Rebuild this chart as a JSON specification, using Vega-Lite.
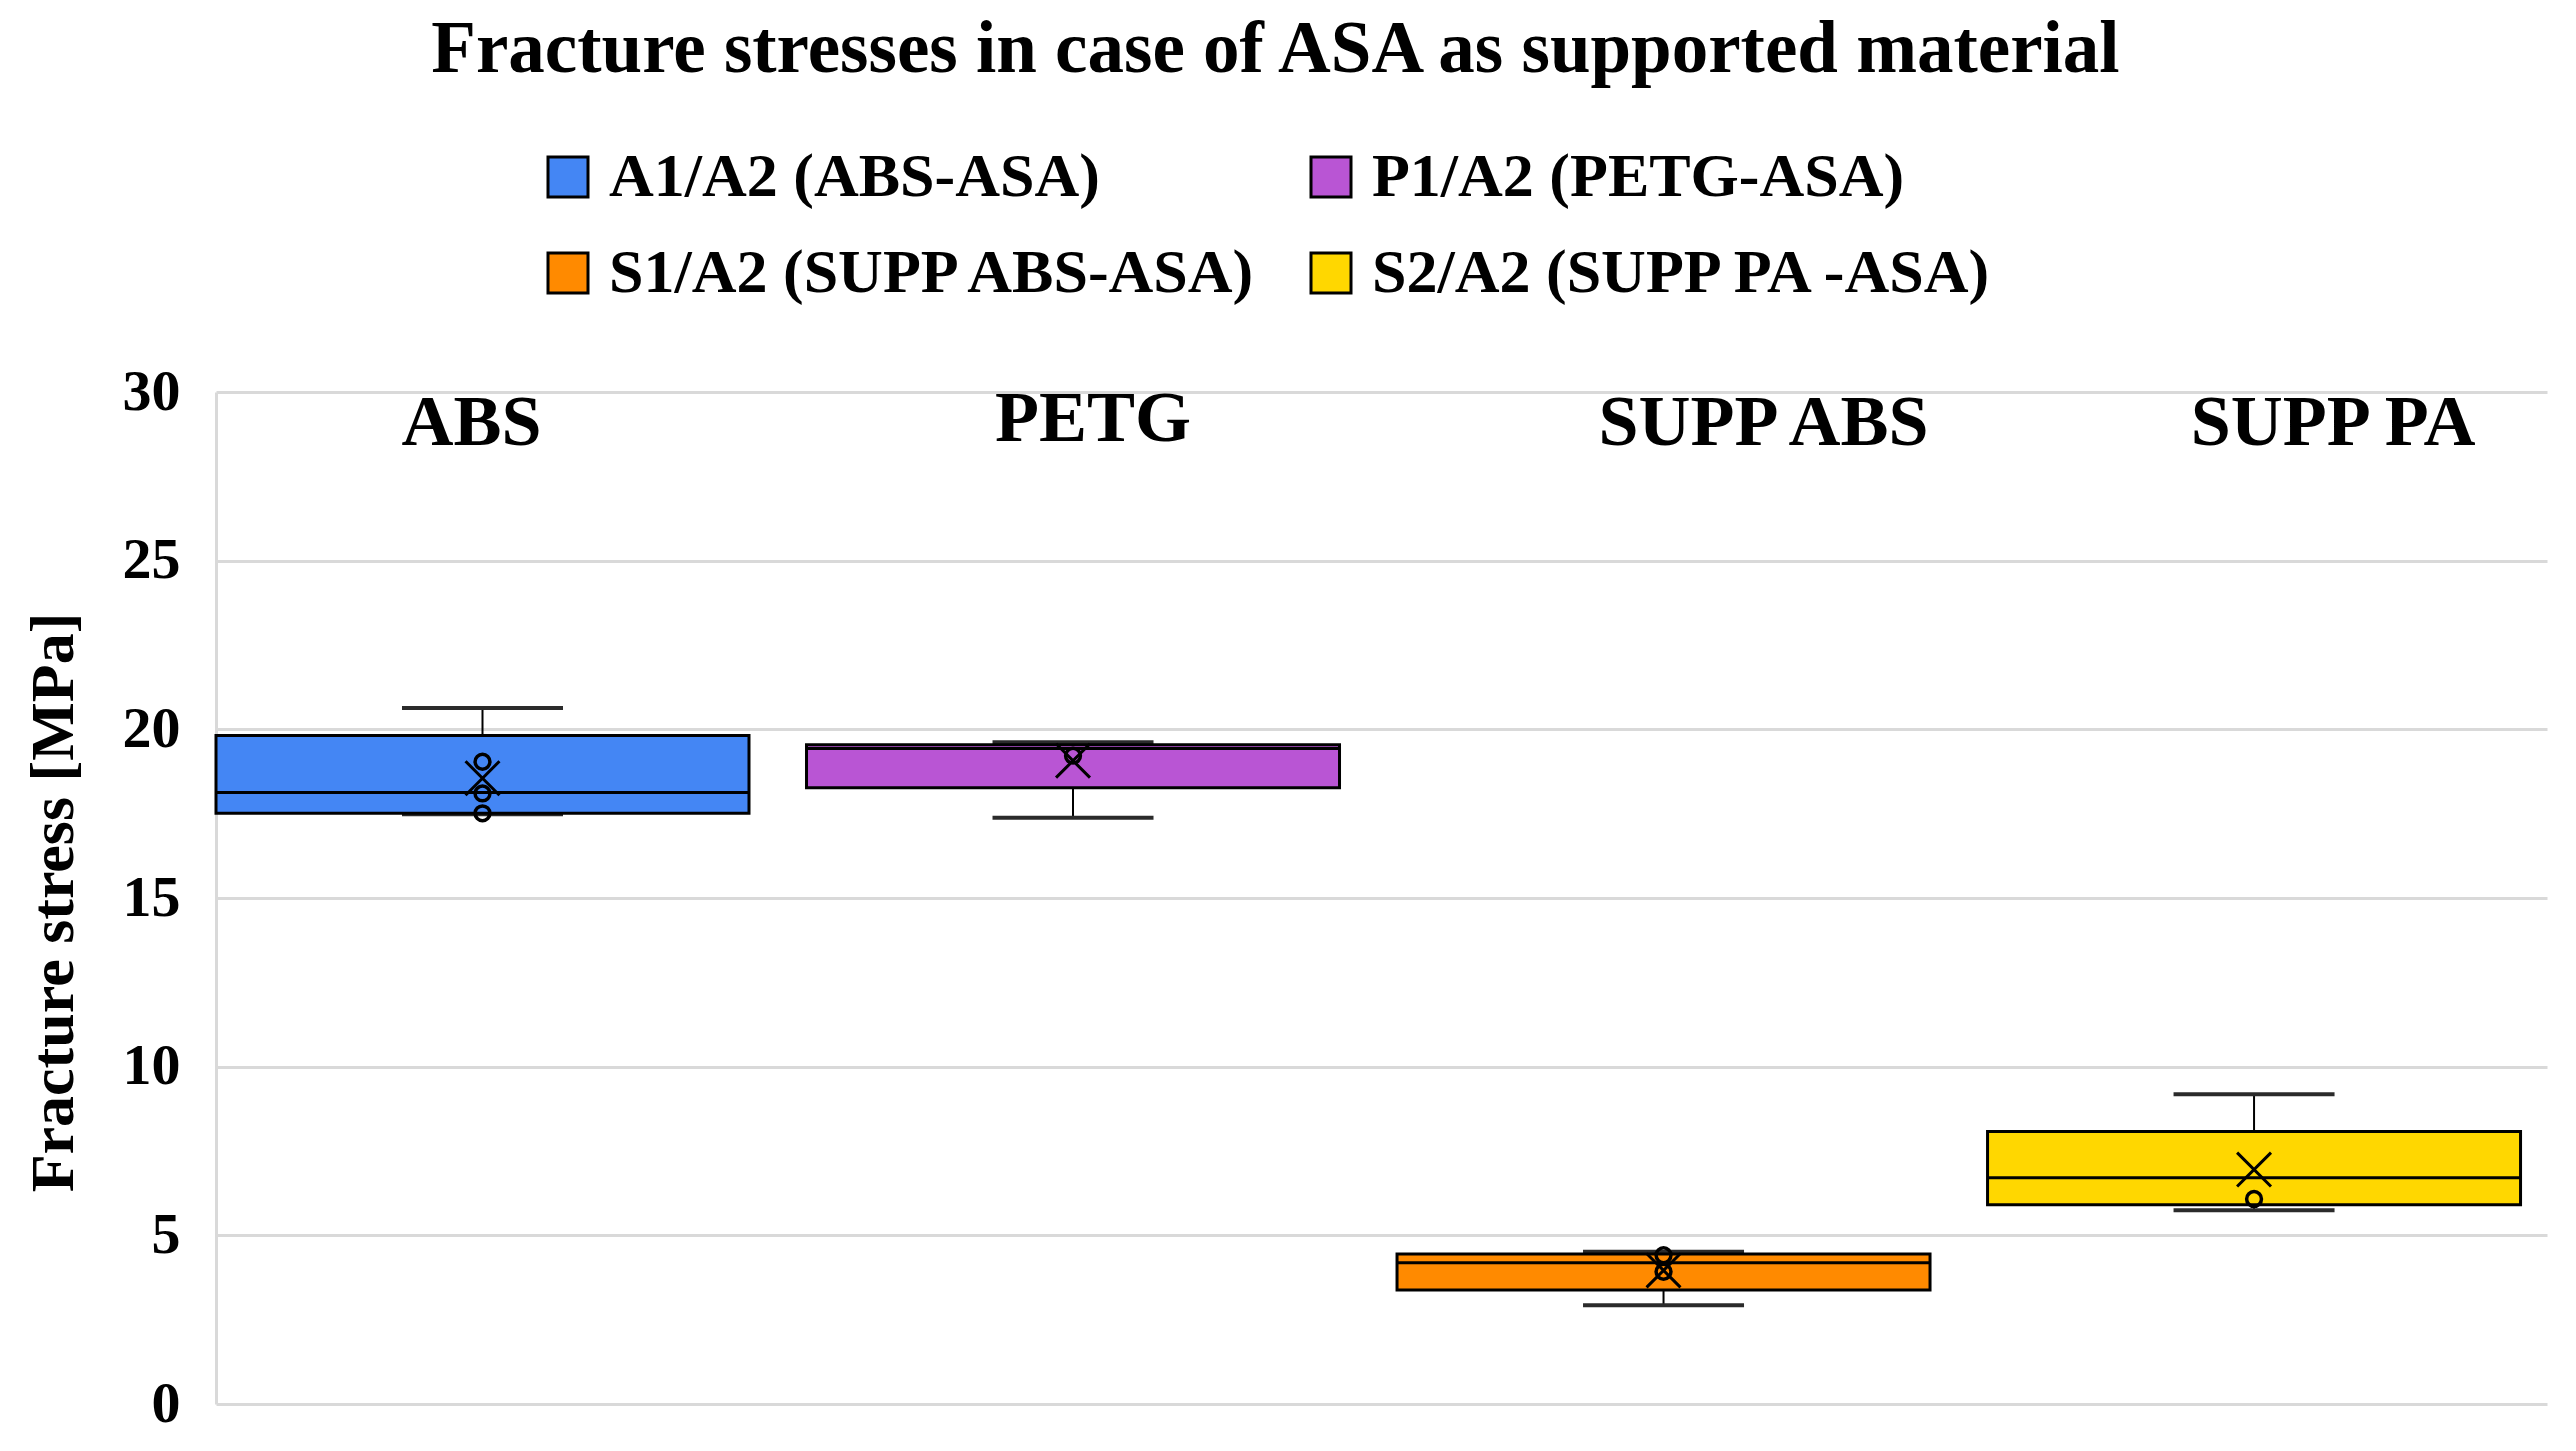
{
  "$schema": "https://vega.github.io/schema/vega-lite/v6.json",
  "autosize": {"type": "none"},
  "width": 2331,
  "height": 1012,
  "padding": {"left": 216, "top": 392, "right": 29, "bottom": 47},
  "background": "white",
  "title": {
    "text": "Fracture stresses in case of ASA as supported material",
    "font": "Liberation Serif",
    "fontSize": 73,
    "fontWeight": "bold",
    "color": "black",
    "anchor": "middle",
    "frame": "group",
    "baseline": "alphabetic",
    "offset": 1,
    "dx": -106
  },
  "datasets": {
    "boxes": [
      {"series": "A1/A2 (ABS-ASA)", "lower": 17.48, "q1": 17.51, "median": 18.13, "q3": 19.82, "upper": 20.63, "mean": 18.55},
      {"series": "P1/A2 (PETG-ASA)", "lower": 17.38, "q1": 18.27, "median": 19.43, "q3": 19.54, "upper": 19.62, "mean": 19.07},
      {"series": "S1/A2 (SUPP ABS-ASA)", "lower": 2.93, "q1": 3.38, "median": 4.19, "q3": 4.45, "upper": 4.51, "mean": 3.96},
      {"series": "S2/A2 (SUPP PA -ASA)", "lower": 5.74, "q1": 5.91, "median": 6.71, "q3": 8.08, "upper": 9.18, "mean": 6.95}
    ],
    "points": [
      {"series": "A1/A2 (ABS-ASA)", "value": 19.04},
      {"series": "A1/A2 (ABS-ASA)", "value": 18.10},
      {"series": "A1/A2 (ABS-ASA)", "value": 17.51},
      {"series": "P1/A2 (PETG-ASA)", "value": 19.22},
      {"series": "S1/A2 (SUPP ABS-ASA)", "value": 4.41},
      {"series": "S1/A2 (SUPP ABS-ASA)", "value": 3.92},
      {"series": "S2/A2 (SUPP PA -ASA)", "value": 6.08}
    ],
    "labels": [
      {"series": "A1/A2 (ABS-ASA)", "label": "ABS"},
      {"series": "P1/A2 (PETG-ASA)", "label": "PETG"},
      {"series": "S1/A2 (SUPP ABS-ASA)", "label": "SUPP ABS"},
      {"series": "S2/A2 (SUPP PA -ASA)", "label": "SUPP PA"}
    ]
  },
  "encoding": {
    "x": {
      "field": "series",
      "type": "nominal",
      "sort": null,
      "scale": {"domain": ["A1/A2 (ABS-ASA)", "P1/A2 (PETG-ASA)", "S1/A2 (SUPP ABS-ASA)", "S2/A2 (SUPP PA -ASA)"], "paddingInner": 0.0974, "paddingOuter": 0.0224, "align": 0},
      "axis": null
    }
  },
  "layer": [
    {
      "data": {"name": "boxes"},
      "mark": {"type": "rule", "color": "black", "strokeWidth": 2},
      "encoding": {
        "y": {"field": "lower", "type": "quantitative", "scale": {"domain": [0, 30], "nice": false},
          "axis": {
            "title": "Fracture stress [MPa]",
            "values": [0, 5, 10, 15, 20, 25, 30],
            "grid": true, "gridColor": "#d9d9d9", "gridWidth": 3,
            "domain": true, "domainColor": "#d9d9d9", "domainWidth": 3,
            "ticks": false,
            "labelFont": "Liberation Serif", "labelFontSize": 58, "labelFontWeight": "bold", "labelColor": "black", "labelPadding": 36,
            "titleFont": "Liberation Serif", "titleFontSize": 62, "titleFontWeight": "bold", "titleColor": "black",
            "titleX": -163, "titleY": 510, "titleAngle": -90, "titleAlign": "center", "titleBaseline": "middle"
          }},
        "y2": {"field": "upper"}
      }
    },
    {
      "data": {"name": "boxes"},
      "mark": {"type": "tick", "color": "#2b2b2b", "thickness": 4, "size": 161, "opacity": 1},
      "encoding": {"y": {"field": "lower", "type": "quantitative"}}
    },
    {
      "data": {"name": "boxes"},
      "mark": {"type": "tick", "color": "#2b2b2b", "thickness": 4, "size": 161, "opacity": 1},
      "encoding": {"y": {"field": "upper", "type": "quantitative"}}
    },
    {
      "data": {"name": "boxes"},
      "mark": {"type": "bar", "stroke": "black", "strokeWidth": 3, "opacity": 1},
      "encoding": {
        "y": {"field": "q1", "type": "quantitative"},
        "y2": {"field": "q3"},
        "color": {
          "field": "series", "type": "nominal",
          "scale": {"domain": ["A1/A2 (ABS-ASA)", "P1/A2 (PETG-ASA)", "S1/A2 (SUPP ABS-ASA)", "S2/A2 (SUPP PA -ASA)"], "range": ["#4486F4", "#B955D4", "#FF8A00", "#FFD700"]},
          "legend": {
            "title": null, "orient": "none", "legendX": 321, "legendY": -246,
            "direction": "horizontal", "columns": 2, "columnPadding": 39, "rowPadding": 34,
            "symbolType": "square", "symbolSize": 1600, "symbolStrokeColor": "black", "symbolStrokeWidth": 3, "symbolOpacity": 1,
            "labelFont": "Liberation Serif", "labelFontSize": 62, "labelFontWeight": "bold", "labelColor": "black",
            "labelOffset": 10, "labelLimit": 1000, "padding": 0
          }
        }
      }
    },
    {
      "data": {"name": "boxes"},
      "mark": {"type": "tick", "color": "black", "thickness": 3, "size": 533, "opacity": 1},
      "encoding": {"y": {"field": "median", "type": "quantitative"}}
    },
    {
      "data": {"name": "points"},
      "mark": {"type": "point", "shape": "circle", "filled": false, "stroke": "black", "strokeWidth": 3.5, "size": 220, "opacity": 1},
      "encoding": {"y": {"field": "value", "type": "quantitative"}}
    },
    {
      "data": {"name": "boxes"},
      "mark": {"type": "point", "shape": "M-1,-1L1,1M-1,1L1,-1", "filled": false, "stroke": "black", "strokeWidth": 3, "size": 1150, "opacity": 1},
      "encoding": {"y": {"field": "mean", "type": "quantitative"}}
    },
    {
      "data": {"name": "labels"},
      "transform": [{"filter": "datum.label === 'ABS'"}],
      "mark": {"type": "text", "font": "Liberation Serif", "fontSize": 72, "fontWeight": "bold", "color": "black", "baseline": "alphabetic", "dx": -11},
      "encoding": {"y": {"datum": 28.43, "type": "quantitative"}, "text": {"field": "label"}}
    },
    {
      "data": {"name": "labels"},
      "transform": [{"filter": "datum.label === 'PETG'"}],
      "mark": {"type": "text", "font": "Liberation Serif", "fontSize": 72, "fontWeight": "bold", "color": "black", "baseline": "alphabetic", "dx": 20},
      "encoding": {"y": {"datum": 28.55, "type": "quantitative"}, "text": {"field": "label"}}
    },
    {
      "data": {"name": "labels"},
      "transform": [{"filter": "datum.label === 'SUPP ABS'"}],
      "mark": {"type": "text", "font": "Liberation Serif", "fontSize": 72, "fontWeight": "bold", "color": "black", "baseline": "alphabetic", "dx": 100},
      "encoding": {"y": {"datum": 28.43, "type": "quantitative"}, "text": {"field": "label"}}
    },
    {
      "data": {"name": "labels"},
      "transform": [{"filter": "datum.label === 'SUPP PA'"}],
      "mark": {"type": "text", "font": "Liberation Serif", "fontSize": 72, "fontWeight": "bold", "color": "black", "baseline": "alphabetic", "dx": 79},
      "encoding": {"y": {"datum": 28.43, "type": "quantitative"}, "text": {"field": "label"}}
    }
  ],
  "config": {"view": {"stroke": null}}
}
